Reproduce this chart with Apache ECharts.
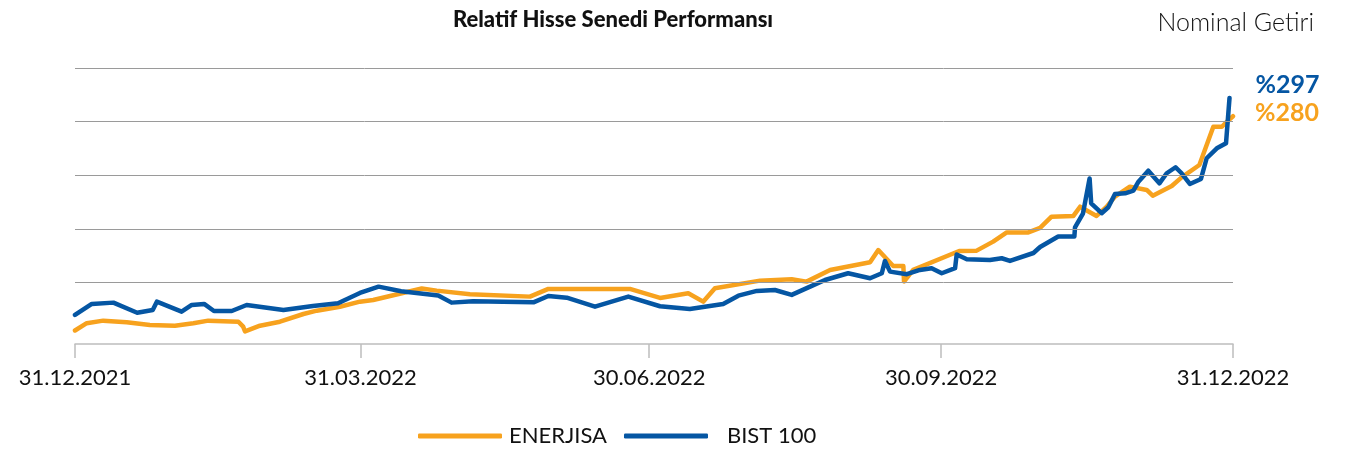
<!DOCTYPE html>
<html>
<head>
<meta charset="utf-8">
<script src="https://cdn.jsdelivr.net/npm/echarts@6/dist/echarts.min.js"></script>
<style>
  html, body { margin: 0; padding: 0; background: #fff; }
  #chart { width: 1352px; height: 452px; }
</style>
</head>
<body>
<div id="chart"></div>
<script>
// days counted from 31.12.2021
const tickDays = [0, 90, 181, 273, 365];
const tickLabels = ['31.12.2021', '31.03.2022', '30.06.2022', '30.09.2022', '31.12.2022'];

const enerjisaDays = [0, 3.7, 8.9, 16.3, 23.6, 31.5, 37.3, 42, 51.5, 53, 53.6, 58.3, 64.6, 72, 76.2, 83.5, 89.8, 94,
  109.3, 114, 124.5, 143.4, 149.2, 174.9, 184.4, 193.3, 198, 201.7, 215.9, 225.9, 230.6, 238, 250.6, 253.2, 257.9,
  261.1, 261.3, 264.2, 278.7, 284.2, 289.4, 293.7, 300.5, 304.2, 307.8, 314.7, 316.8, 322, 325.2, 327.8, 332.5,
  337.8, 339.7, 345.7, 348.8, 354.4, 358.8, 361.5, 363.1, 365];
const enerjisaValues = [80.1, 86.9, 89.3, 87.8, 85.3, 84.6, 86.9, 89.3, 88.3, 83.7, 79.2, 84.6, 88.3, 95.5, 98.6, 102.3, 107, 108.6,
  119.3, 117.3, 113.9, 111.7, 118.9, 118.9, 110.5, 114.8, 107, 119.5, 126.6, 127.9, 125.7, 136.6, 143.8, 155.2, 140.3,
  140.3, 125.8, 136.6, 154.3, 154.6, 163, 171.6, 171.6, 175.8, 186.3, 187, 195.6, 187, 195.6, 205, 214.3,
  211.2, 205.9, 214.9, 223, 234.5, 270.2, 270.2, 274.9, 280];

const bistDays = [0, 5.3, 12.1, 19.6, 24.5, 25.8, 33.6, 36.8, 40.7, 43.8, 49.4, 54.1, 65.7, 75, 82.9, 89.8, 95.7, 102.8,
  114.5, 118.7, 125.5, 144.5, 149.2, 155, 163.9, 174.4, 184.4, 193.8, 204.3, 209.1, 214.9, 220.6, 225.9, 231.7,
  236.4, 243.7, 250.6, 254.3, 255.3, 256.9, 262.2, 266.3, 270, 273.2, 277.4, 277.9, 281.1, 288.4, 292.1, 294.7,
  302.1, 304.2, 309.9, 315, 315.2, 317.7, 319.8, 320.3, 323.6, 325.7, 327.8, 331, 333.6, 335.2, 338.3, 341.8,
  344.1, 346.9, 348.8, 351.4, 354.9, 356.7, 359.9, 362.8, 363.9];
const bistValues = [94.6, 104.9, 106.1, 96.7, 99.3, 107, 97.7, 103.9, 104.9, 98.3, 98.3, 103.9, 99.3, 103, 105.5, 115.1, 121, 116.7,
  112.8, 106.1, 107.4, 106.4, 112.3, 110.7, 102.3, 111.7, 102.7, 100.2, 104.9, 112.6, 117, 117.9, 113.3, 121,
  127.2, 133.5, 128.8, 133.5, 145, 135, 132.6, 136.6, 138.2, 133.5, 138.2, 151, 146.6, 145.9, 147.5, 145,
  152.4, 158, 167.8, 167.8, 176.2, 189.1, 221.9, 198.8, 189.5, 195.1, 207.5, 208.1, 210.7, 218.9, 229.2, 217.4,
  226.8, 232.4, 226.8, 216.8, 221.5, 240.8, 250.1, 254.8, 297];

const gridValues = [125, 175, 225, 275, 325];
const seriesNames = ['ENERJISA', 'BIST 100'];
const endLabels = ['%280', '%297'];

const ORANGE = '#F7A21E';
const BLUE = '#0556A3';
const FONT = 'Lato, sans-serif';

const zip = (xs, ys) => xs.map((x, i) => [x, ys[i]]);

const chart = echarts.init(document.getElementById('chart'), null, { renderer: 'canvas' });

const option = {
  animation: false,
  backgroundColor: '#fff',
  title: [
    {
      text: 'Relatif Hisse Senedi Performansı',
      left: 608, top: 4, textAlign: 'center',
      textStyle: { fontFamily: FONT, fontWeight: 900, fontSize: 22, color: '#111' }
    },
    {
      text: 'Nominal Getiri',
      right: 33, top: 5,
      textStyle: { fontFamily: FONT, fontWeight: 300, fontSize: 25, color: '#111' }
    }
  ],
  legend: {
    left: 413, top: 420,
    itemWidth: 84, itemHeight: 5, itemGap: 17,
    icon: 'roundRect',
    data: [
      { name: 'ENERJISA', textStyle: { padding: [0, 0, 0, 2] } },
      { name: 'BIST 100', textStyle: { padding: [0, 0, 0, 14] } }
    ],
    textStyle: { fontFamily: FONT, fontSize: 22, color: '#111' }
  },
  grid: { left: 75, right: 119, top: 68, bottom: 108 },
  xAxis: {
    type: 'value',
    min: 0, max: 365,
    splitLine: { show: false },
    axisLine: { show: true, lineStyle: { color: '#bdbdbd', width: 1.5 } },
    axisTick: { show: true, customValues: tickDays, length: 14, lineStyle: { color: '#bdbdbd', width: 1.5 } },
    axisLabel: {
      customValues: tickDays,
      margin: 23,
      fontFamily: FONT, fontSize: 22, color: '#111',
      formatter: v => tickLabels[tickDays.indexOf(v)]
    }
  },
  yAxis: {
    type: 'value',
    min: 67.5, max: 325,
    axisLine: { show: false },
    axisTick: { show: false },
    axisLabel: { show: false },
    splitLine: { show: false }
  },
  series: [
    {
      name: 'grid',
      type: 'line',
      data: [],
      z: 1,
      silent: true,
      markLine: {
        silent: true,
        symbol: 'none',
        label: { show: false },
        lineStyle: { color: '#9a9a9a', width: 1, type: 'solid' },
        data: gridValues.map(v => ({ yAxis: v }))
      }
    },
    {
      name: seriesNames[0],
      type: 'line',
      z: 3,
      showSymbol: false,
      color: ORANGE,
      lineStyle: { width: 4.5, color: ORANGE, cap: 'round', join: 'round' },
      data: zip(enerjisaDays, enerjisaValues),
      endLabel: {
        show: true, distance: 22, offset: [0, -3],
        formatter: endLabels[0],
        fontFamily: FONT, fontWeight: 'bold', fontSize: 25, color: ORANGE
      }
    },
    {
      name: seriesNames[1],
      type: 'line',
      z: 4,
      showSymbol: false,
      color: BLUE,
      lineStyle: { width: 4.5, color: BLUE, cap: 'round', join: 'round' },
      data: zip(bistDays, bistValues),
      endLabel: {
        show: true, distance: 26, offset: [0, -13],
        formatter: endLabels[1],
        fontFamily: FONT, fontWeight: 'bold', fontSize: 25, color: BLUE
      }
    }
  ]
};

chart.setOption(option);
</script>
</body>
</html>
